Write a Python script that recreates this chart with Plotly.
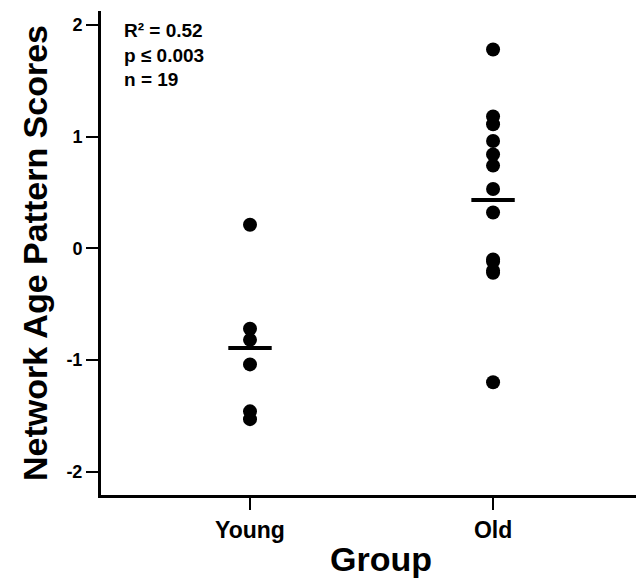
import plotly.graph_objects as go

groups = ["Young", "Old"]
young_scores = [0.21, -0.72, -0.82, -1.04, -1.46, -1.53]
old_scores = [1.78, 1.18, 1.11, 0.96, 0.84, 0.74, 0.53, 0.32, -0.10, -0.12, -0.20, -0.22, -1.20]
y_ticks = [-2, -1, 0, 1, 2]
y_tick_labels = ["-2", "-1", "0", "1", "2"]
stats_text = "R² = 0.52<br>p ≤ 0.003<br>n = 19"

FONT = "Liberation Sans, Arial, sans-serif"

fig = go.Figure()
for i, vals in enumerate([young_scores, old_scores]):
    fig.add_trace(go.Scatter(
        x=[i] * len(vals), y=vals, mode="markers",
        marker=dict(color="black", size=14, line=dict(width=0)),
        showlegend=False, hoverinfo="y"))
    mean = sum(vals) / len(vals)
    fig.add_trace(go.Scatter(
        x=[i], y=[mean], mode="markers",
        marker=dict(symbol="line-ew-open", size=31, color="black",
                    line=dict(color="black", width=4)),
        showlegend=False, hoverinfo="y"))

fig.update_layout(
    width=644, height=579,
    margin=dict(l=93, r=8, t=3, b=92),
    paper_bgcolor="white", plot_bgcolor="white",
    font=dict(family=FONT, color="black"),
)
fig.update_xaxes(
    range=[-0.613, 1.621],
    tickvals=[0, 1], ticktext=groups,
    ticks="outside", ticklen=12, tickwidth=1.5, tickcolor="black",
    showline=True, linewidth=3, linecolor="black",
    showgrid=False, zeroline=False,
    tickfont=dict(size=23, family=FONT, weight="bold"),
)
fig.update_yaxes(
    range=[-2.209, 2.124],
    tickvals=y_ticks, ticktext=y_tick_labels,
    ticks="outside", ticklen=12, tickwidth=1.5, tickcolor="black",
    showline=True, linewidth=3, linecolor="black",
    showgrid=False, zeroline=False,
    tickfont=dict(size=18, family=FONT, weight="bold"),
    title=dict(text="Network Age Pattern Scores", font=dict(size=34, family=FONT, weight="bold"), standoff=9),
)
fig.add_annotation(
    x=0.516, y=0, xref="paper", yref="paper", xanchor="center", yanchor="middle",
    yshift=-64, text="Group", showarrow=False,
    font=dict(size=34, family=FONT, weight="bold", color="black"),
)
fig.add_annotation(
    x=0, y=1, xref="paper", yref="paper", xanchor="left", yanchor="top",
    xshift=21, yshift=-7,
    text=stats_text, showarrow=False, align="left",
    font=dict(size=19, family=FONT, weight="bold", color="black"),
)
fig.write_html("out.html")
